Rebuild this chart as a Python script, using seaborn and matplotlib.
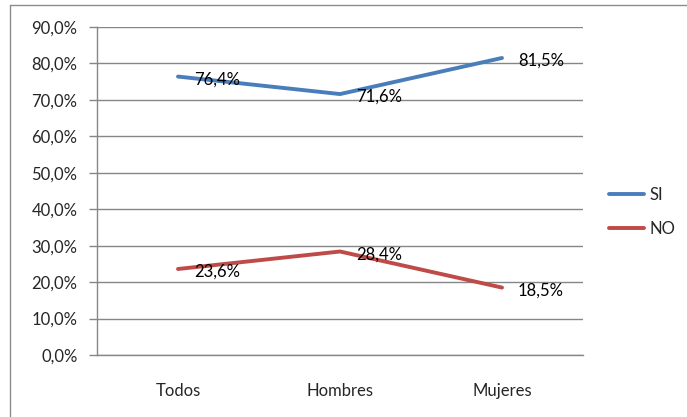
import pandas as pd
import matplotlib
matplotlib.use("Agg")
import matplotlib.pyplot as plt
import seaborn as sns
from matplotlib.ticker import FuncFormatter, MultipleLocator
from matplotlib.lines import Line2D

# =====================================================
# DATA
# =====================================================

grupos = ["Todos", "Hombres", "Mujeres"]
si_vals = [76.4, 71.6, 81.5]
no_vals = [23.6, 28.4, 18.5]
series = ["SI", "NO"]
colores = ["#4a7ebb", "#be4b48"]

df = pd.DataFrame({
    "Grupo": grupos * 2,
    "Valor": si_vals + no_vals,
    "Respuesta": ["SI"] * 3 + ["NO"] * 3,
})

# =====================================================
# PLOT
# =====================================================

sns.set_style("white")
plt.rcParams["font.family"] = ["Lato", "DejaVu Sans"]

fs = 12

fig = plt.figure(figsize=(6.87, 4.17), dpi=100)
ax = fig.add_axes([97 / 687, 1 - 355 / 417, (583 - 97) / 687, (355 - 27) / 417])

sns.lineplot(
    data=df,
    x="Grupo",
    y="Valor",
    hue="Respuesta",
    hue_order=series,
    palette=colores,
    linewidth=2.8,
    ax=ax,
    legend=False,
    sort=False,
)

# data labels
for vals in [si_vals, no_vals]:
    for i, v in enumerate(vals):
        ax.annotate(
            f"{v:.1f}%".replace(".", ","),
            (i, v),
            xytext=(16, -3),
            textcoords="offset pixels",
            ha="left",
            va="center",
            fontsize=fs,
            color="black",
        )

ax.set_xlim(-0.5, 2.5)
ax.set_ylim(0, 90)
ax.yaxis.set_major_locator(MultipleLocator(10))
ax.yaxis.set_major_formatter(FuncFormatter(lambda v, p: f"{v:.1f}%".replace(".", ",")))
ax.grid(axis="y", color="#868686", linewidth=1)
ax.set_axisbelow(True)

ax.set_xticks([0, 1, 2])
ax.set_xticklabels(grupos)
ax.set_xticks([-0.5, 0.5, 1.5, 2.5], minor=True)
ax.tick_params(axis="x", which="major", length=0, pad=20, labelsize=fs)
ax.tick_params(axis="x", which="minor", length=4, width=1, color="#868686", direction="out")
ax.tick_params(axis="y", length=6, width=1, color="#868686", pad=8, labelsize=fs, left=True)

ax.set_xlabel("")
ax.set_ylabel("")

for s in ["top", "right"]:
    ax.spines[s].set_visible(False)
for s in ["left", "bottom"]:
    ax.spines[s].set_color("#868686")
    ax.spines[s].set_linewidth(1)

# legend
handles = [Line2D([0], [0], color=c, linewidth=2.8) for c in colores]
fig.legend(
    handles,
    series,
    loc="center left",
    bbox_to_anchor=(606 / 687, 1 - 212 / 417),
    frameon=False,
    fontsize=fs,
    borderpad=0.2,
    borderaxespad=0,
    handlelength=2.1,
    handletextpad=0.3,
    labelspacing=1.1,
)

# chart border (top and left)
fig.add_artist(Line2D([10 / 687, 10 / 687], [0, 1 - 5 / 417], color="#8c8c8c", linewidth=1, transform=fig.transFigure))
fig.add_artist(Line2D([10 / 687, 1], [1 - 5 / 417, 1 - 5 / 417], color="#8c8c8c", linewidth=1, transform=fig.transFigure))

fig.savefig("out.png", dpi=100)
